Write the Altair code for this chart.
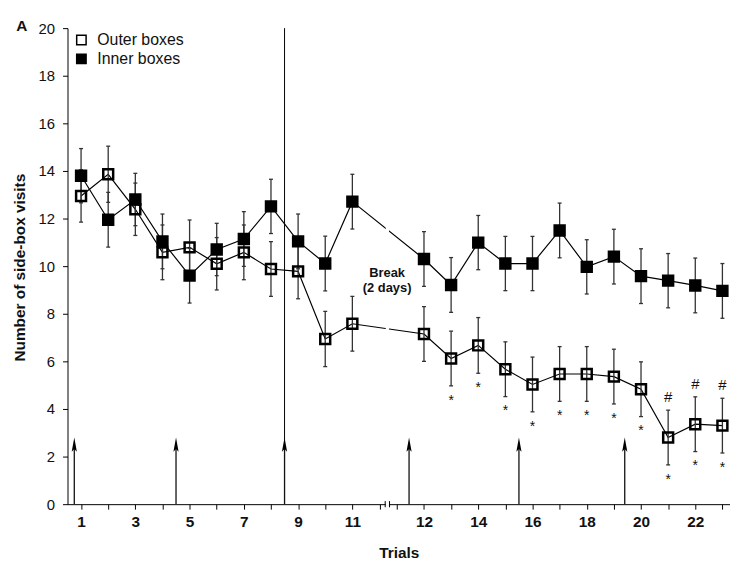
import altair as alt
import pandas as pd

# ---------------- data ----------------
trials = list(range(1, 24))
inner_mean = [13.80, 11.95, 12.80, 11.04, 9.60, 10.70, 11.14, 12.51, 11.04, 10.11, 12.71,
              10.30, 9.21, 10.99, 10.11, 10.11, 11.50, 9.97, 10.40, 9.58, 9.39, 9.19, 8.96]
inner_se = [1.14, 1.15, 1.10, 1.15, 1.15, 1.10, 1.15, 1.14, 1.15, 1.15, 1.15,
            1.15, 1.15, 1.14, 1.14, 1.14, 1.15, 1.14, 1.15, 1.15, 1.14, 1.15, 1.15]
outer_mean = [12.95, 13.86, 12.39, 10.58, 10.79, 10.10, 10.58, 9.88, 9.78, 6.94, 7.58,
              7.15, 6.12, 6.67, 5.67, 5.03, 5.47, 5.47, 5.36, 4.83, 2.80, 3.36, 3.30]
outer_se = [1.10, 1.18, 1.10, 1.15, 1.15, 1.10, 1.15, 1.15, 1.15, 1.16, 1.15,
            1.15, 1.15, 1.17, 1.15, 1.15, 1.15, 1.15, 1.15, 1.15, 1.15, 1.15, 1.15]
series_names = ["Outer boxes", "Inner boxes"]
star_trials = [13, 14, 15, 16, 17, 18, 19, 20, 21, 22, 23]
hash_trials = [21, 22, 23]
arrow_trials = [0.75, 4.5, 8.5, 11.45, 15.5, 19.4]
arrow_top = [2.75]
divider_trial = [8.5]
break_label = ["Break", "(2 days)"]
break_label_y = [9.72, 9.08]
y_ticks = list(range(0, 21, 2))

BREAK_AFTER = 11
GAP = 1.64  # extra axis units inserted by the axis break after trial 11


def pos(t):
    return t if t <= BREAK_AFTER else t + GAP


# ---------------- tables ----------------
rows = []
for name, means, ses in [("Outer boxes", outer_mean, outer_se), ("Inner boxes", inner_mean, inner_se)]:
    for t, m, s in zip(trials, means, ses):
        rows.append({"series": name, "trial": t, "pos": pos(t), "mean": m,
                     "lower": m - s, "upper": m + s})
df = pd.DataFrame(rows)
outer = df[df.series == "Outer boxes"]
stars = outer[outer.trial.isin(star_trials)]
hashes = outer[outer.trial.isin(hash_trials)]

arrows = pd.DataFrame({"pos": [pos(t) for t in arrow_trials]})
arrows["top"] = arrow_top[0]
arrows["head"] = arrow_top[0] - 0.25
arrows["zero"] = 0

divider = pd.DataFrame({"pos": [pos(t) for t in divider_trial], "y1": [0], "y2": [20]})

break_pos = BREAK_AFTER + 1.21
break_marks = pd.DataFrame({"pos": [break_pos, break_pos + 0.16], "y1": [-0.13] * 2, "y2": [0.13] * 2})
mask = pd.DataFrame({"x1": [break_pos + 0.02], "x2": [break_pos + 0.14], "y1": [-0.07], "y2": [20]})
blabel = pd.DataFrame({"pos": [break_pos + 0.07] * 2, "y": break_label_y, "text": break_label})

tick_values = [float(t) for t in range(1, 13)] + [round(t + GAP, 2) for t in range(11, 24)]

FONT = "Liberation Sans"
W, H = 668, 480
XDOM = [0.5, 24.92]

xscale = alt.Scale(domain=XDOM, nice=False, zero=False)
yscale = alt.Scale(domain=[0, 20], nice=False, zero=False)

label_expr = (
    "datum.value <= 12.1 ? (datum.value % 2 == 1 ? '' + round(datum.value) : '') : "
    f"(round(datum.value - {GAP}) % 2 == 0 ? '' + round(datum.value - {GAP}) : '')"
)

x_enc = alt.X(
    "pos:Q", scale=xscale,
    axis=alt.Axis(values=tick_values, tickCount=len(tick_values) + 5, labelExpr=label_expr,
                  title="Trials",
                  labelFontWeight="bold", labelFontSize=15.5, labelFont=FONT,
                  labelPadding=6, tickSize=5, grid=False, zindex=0,
                  titleFontSize=15.5, titleFontWeight="bold", titleFont=FONT,
                  titleY=54, titleBaseline="alphabetic",
                  domainColor="black", tickColor="black", labelColor="#111",
                  titleColor="#111", labelFlush=False, labelOverlap=False),
)
y_enc = alt.Y(
    "mean:Q", scale=yscale,
    axis=alt.Axis(values=y_ticks, tickCount=len(y_ticks) + 2, title="Number of side-box visits",
                  labelFontSize=15, labelFont=FONT, labelPadding=8, tickSize=5,
                  grid=False, zindex=0, titleFontSize=15.5, titleFontWeight="bold",
                  titleFont=FONT, titleX=-43, titleY=241, titleAngle=270,
                  titleAlign="center", titleBaseline="alphabetic",
                  domainColor="black", tickColor="black", labelColor="#111",
                  titleColor="#111", labelFlush=False, labelOverlap=False),
)

base = alt.Chart(df)

divider_layer = alt.Chart(divider).mark_rule(color="black", strokeWidth=1).encode(
    x=alt.X("pos:Q", scale=xscale), y=alt.Y("y1:Q", scale=yscale), y2="y2:Q")

arrow_shaft = alt.Chart(arrows).mark_rule(color="#111", strokeWidth=1.3).encode(
    x=alt.X("pos:Q", scale=xscale), y=alt.Y("zero:Q", scale=yscale), y2="head:Q")
arrow_head = alt.Chart(arrows).mark_point(
    shape="M0,-1L0.36,1L0,0.6L-0.36,1Z", size=210, filled=True, color="black", opacity=1
).encode(x=alt.X("pos:Q", scale=xscale), y=alt.Y("head:Q", scale=yscale))

lines = base.mark_line(color="black", strokeWidth=1.2).encode(
    x=x_enc, y=y_enc, detail="series:N", order="pos:Q")

mask_layer = alt.Chart(mask).mark_rect(color="white").encode(
    x=alt.X("x1:Q", scale=xscale), x2="x2:Q", y=alt.Y("y1:Q", scale=yscale), y2="y2:Q")

break_layer = alt.Chart(break_marks).mark_rule(color="black", strokeWidth=1).encode(
    x=alt.X("pos:Q", scale=xscale), y=alt.Y("y1:Q", scale=yscale), y2="y2:Q")

err = base.mark_rule(color="#333", strokeWidth=1.3).encode(
    x=alt.X("pos:Q", scale=xscale), y=alt.Y("lower:Q", scale=yscale), y2="upper:Q")
cap_lo = base.mark_point(shape="M-1,0L1,0", size=16, color="#333", strokeWidth=1.3, opacity=1).encode(
    x=alt.X("pos:Q", scale=xscale), y=alt.Y("lower:Q", scale=yscale))
cap_hi = base.mark_point(shape="M-1,0L1,0", size=16, color="#333", strokeWidth=1.3, opacity=1).encode(
    x=alt.X("pos:Q", scale=xscale), y=alt.Y("upper:Q", scale=yscale))

points = base.mark_point(shape="square", size=100, stroke="black", strokeWidth=2.5,
                         opacity=1, fillOpacity=1, strokeOpacity=1).encode(
    x=alt.X("pos:Q", scale=xscale), y=alt.Y("mean:Q", scale=yscale),
    fill=alt.Fill("series:N", scale=alt.Scale(domain=series_names, range=["transparent", "black"]),
                  legend=alt.Legend(title=None, orient="none", legendX=6, legendY=4,
                                    symbolType="square", symbolSize=90,
                                    symbolStrokeColor="black", symbolStrokeWidth=1.5,
                                    labelFontSize=16, labelFont=FONT, labelColor="#111",
                                    rowPadding=3, labelOffset=8, padding=0)),
)

star_layer = alt.Chart(stars).mark_text(text="*", fontSize=14, dy=15, font=FONT, color="#111").encode(
    x=alt.X("pos:Q", scale=xscale), y=alt.Y("lower:Q", scale=yscale))
hash_layer = alt.Chart(hashes).mark_text(text="#", fontSize=15, dy=-13, font=FONT, color="#111").encode(
    x=alt.X("pos:Q", scale=xscale), y=alt.Y("upper:Q", scale=yscale))

blabel_layer = alt.Chart(blabel).mark_text(fontSize=13, fontWeight="bold", font=FONT, color="#111").encode(
    x=alt.X("pos:Q", scale=xscale), y=alt.Y("y:Q", scale=yscale), text="text:N")

panel_label = alt.Chart(pd.DataFrame({"t": ["A"]})).mark_text(
    fontSize=15.5, fontWeight="bold", font=FONT, color="#111", align="center", baseline="middle"
).encode(x=alt.value(-46), y=alt.value(-2), text="t:N")

chart = alt.layer(
    lines, divider_layer, arrow_shaft, arrow_head, mask_layer, break_layer,
    err, cap_lo, cap_hi, points, star_layer, hash_layer, blabel_layer, panel_label,
).properties(
    width=W, height=H,
    autosize=alt.AutoSizeParams(type="none"),
    padding={"left": 60, "top": 18, "right": 0, "bottom": 55},
    background="white",
).configure_view(stroke=None)

chart.save("out.html", embed_options={"renderer": "svg", "actions": False})
